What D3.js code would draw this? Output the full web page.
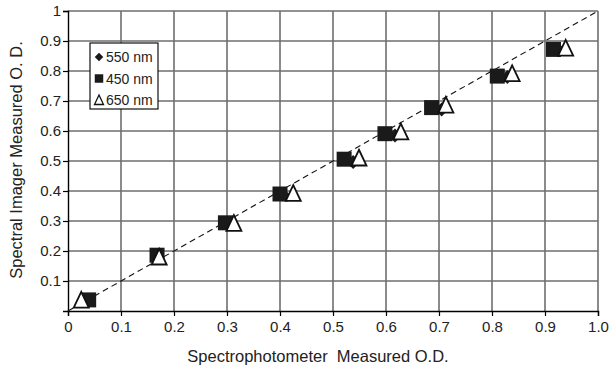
<!DOCTYPE html>
<html>
<head>
<meta charset="utf-8">
<script src="https://cdn.jsdelivr.net/npm/d3@7"></script>
<style>
  body { margin: 0; background: #fff; }
  svg { display: block; font-family: "Liberation Sans", Arial, sans-serif; }
</style>
</head>
<body>
<div id="chart"></div>
<script>
// spectrophotometer O.D. (x) vs spectral imager O.D. (y), per wavelength
const x550 = [0.030, 0.168, 0.300, 0.405, 0.538, 0.617, 0.705, 0.829, 0.926];
const y550 = [0.037, 0.182, 0.292, 0.388, 0.497, 0.585, 0.672, 0.780, 0.869];
const x450 = [0.039, 0.168, 0.297, 0.400, 0.521, 0.598, 0.686, 0.810, 0.916];
const y450 = [0.037, 0.186, 0.294, 0.390, 0.506, 0.591, 0.678, 0.783, 0.872];
const x650 = [0.025, 0.172, 0.313, 0.425, 0.549, 0.628, 0.713, 0.838, 0.939];
const y650 = [0.036, 0.180, 0.292, 0.392, 0.510, 0.597, 0.686, 0.791, 0.876];

const xTicks = [0, 0.1, 0.2, 0.3, 0.4, 0.5, 0.6, 0.7, 0.8, 0.9, 1.0];
const xTickLabels = ['0', '0.1', '0.2', '0.3', '0.4', '0.5', '0.6', '0.7', '0.8', '0.9', '1.0'];
const yTicks = [0.1, 0.2, 0.3, 0.4, 0.5, 0.6, 0.7, 0.8, 0.9, 1];
const yTickLabels = ['0.1', '0.2', '0.3', '0.4', '0.5', '0.6', '0.7', '0.8', '0.9', '1'];

const series = [
  { name: '550 nm', xs: x550, ys: y550, shape: 'diamond' },
  { name: '450 nm', xs: x450, ys: y450, shape: 'square' },
  { name: '650 nm', xs: x650, ys: y650, shape: 'triangle' }
];

const margin = { top: 11, right: 14, bottom: 60, left: 68 };
const W = 612, H = 371;
const width = W - margin.left - margin.right;
const height = H - margin.top - margin.bottom;

const svg = d3.select('#chart').append('svg')
  .attr('width', W)
  .attr('height', H);

const g = svg.append('g')
  .attr('transform', `translate(${margin.left}, ${margin.top})`);

const x = d3.scaleLinear().domain([0, 1]).range([0, width]);
const y = d3.scaleLinear().domain([0, 1]).range([height, 0]);

// grid
g.append('g')
  .selectAll('line')
  .data(xTicks.slice(1))
  .join('line')
  .attr('x1', d => x(d)).attr('x2', d => x(d))
  .attr('y1', 0).attr('y2', height)
  .attr('stroke', '#6e6e6e')
  .attr('stroke-width', 1.6);

g.append('g')
  .selectAll('line')
  .data(yTicks)
  .join('line')
  .attr('x1', 0).attr('x2', width)
  .attr('y1', d => y(d)).attr('y2', d => y(d))
  .attr('stroke', '#6e6e6e')
  .attr('stroke-width', 1.6);

// axes
const xAxis = g.append('g')
  .attr('transform', `translate(0, ${height})`)
  .call(d3.axisBottom(x).tickValues(xTicks)
    .tickFormat((d, i) => xTickLabels[i]).tickSize(5).tickPadding(5));
xAxis.select('.domain').attr('stroke', '#000').attr('stroke-width', 1.4);
xAxis.selectAll('.tick line').attr('stroke', '#000').attr('stroke-width', 1.2);
xAxis.selectAll('text').style('font-size', '15px').attr('fill', '#222');

const yAxis = g.append('g')
  .call(d3.axisLeft(y).tickValues(yTicks)
    .tickFormat((d, i) => yTickLabels[i]).tickSize(5).tickPadding(2));
yAxis.select('.domain').attr('stroke', '#000').attr('stroke-width', 1.4);
yAxis.selectAll('.tick line').attr('stroke', '#000').attr('stroke-width', 1.2);
yAxis.selectAll('text').style('font-size', '15px').attr('fill', '#222');

// 1:1 line
g.append('line')
  .attr('x1', x(0)).attr('y1', y(0))
  .attr('x2', x(1)).attr('y2', y(1))
  .attr('stroke', '#111')
  .attr('stroke-width', 1.1)
  .attr('stroke-dasharray', '6,4');

const symbolPath = (shape, size) => {
  const s = size / 2;
  if (shape === 'diamond') return `M0,${-s}L${s},0L0,${s}L${-s},0Z`;
  if (shape === 'square') return `M${-s},${-s}H${s}V${s}H${-s}Z`;
  return `M0,${-s * 1.1}L${s},${s}L${-s},${s}Z`;
};

const styleShape = (sel, shape) => {
  if (shape === 'triangle') {
    sel.attr('fill', '#fff').attr('stroke', '#111').attr('stroke-width', 1.8);
  } else {
    sel.attr('fill', '#1a1a1a').attr('stroke', 'none');
  }
};

// points
series.forEach(s => {
  const size = s.shape === 'diamond' ? 14 : 15;
  const pts = g.append('g')
    .selectAll('path')
    .data(s.xs.map((v, i) => [v, s.ys[i]]))
    .join('path')
    .attr('d', symbolPath(s.shape, size))
    .attr('transform', d => `translate(${x(d[0])}, ${y(d[1])})`);
  styleShape(pts, s.shape);
});

// legend
const legend = svg.append('g').attr('transform', 'translate(90, 43)');
legend.append('rect')
  .attr('width', 68).attr('height', 66)
  .attr('fill', '#fff')
  .attr('stroke', '#111')
  .attr('stroke-width', 1.2);

series.forEach((s, i) => {
  const row = legend.append('g')
    .attr('transform', `translate(9, ${14 + i * 21.5})`);
  const mk = row.append('path')
    .attr('d', symbolPath(s.shape, s.shape === 'triangle' ? 9 : 8.5));
  styleShape(mk, s.shape);
  if (s.shape === 'triangle') mk.attr('stroke-width', 1.3);
  row.append('text')
    .attr('x', 7)
    .attr('y', 5)
    .style('font-size', '14px')
    .attr('fill', '#222')
    .text(s.name);
});

// axis titles
svg.append('text')
  .attr('x', 318)
  .attr('y', 362)
  .attr('text-anchor', 'middle')
  .style('font-size', '16.5px')
  .attr('fill', '#222')
  .attr('xml:space', 'preserve')
  .text('Spectrophotometer  Measured O.D.');

svg.append('text')
  .attr('transform', 'translate(22, 160) rotate(-90)')
  .attr('text-anchor', 'middle')
  .style('font-size', '16.5px')
  .attr('fill', '#222')
  .text('Spectral Imager Measured O. D.');
</script>
</body>
</html>
